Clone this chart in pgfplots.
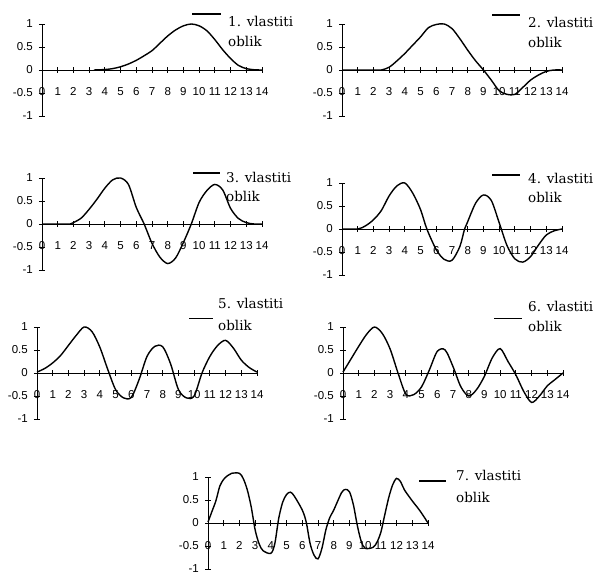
\documentclass[border=0pt]{standalone}
\usepackage{fontspec}
\setmainfont{Liberation Sans}
\newfontfamily\legfont{DejaVu Serif}
\usepackage{pgfplots}
\pgfplotsset{compat=1.18}

\pgfplotsset{
  mode/.style={
    scale only axis, width=220pt, height=92pt,
    anchor=south west,
    xmin=0, xmax=14, ymin=-1, ymax=1,
    axis lines=middle, axis line style={-, line width=0.8pt},
    hide obscured x ticks=false, hide obscured y ticks=false,
    xtick={0,1,2,3,4,5,6,7,8,9,10,11,12,13,14},
    xticklabels={0,1,2,3,4,5,6,7,8,9,10,11,12,13,14},
    ytick={-1,-0.5,0,0.5,1},
    yticklabels={-1,-0.5,0,0.5,1},
    tick align=center, major tick length=6pt,
    tick style={black, line width=0.8pt},
    ticklabel style={font=\fontsize{11.5}{12}\selectfont},
    xticklabel style={anchor=base, inner sep=0pt, yshift=-23pt},
    yticklabel style={anchor=east, inner sep=0pt, xshift=-6pt},
    clip=false,
  },
  cv/.style={black, line width=1.4pt, smooth, no markers},
}

\begin{document}
\begin{tikzpicture}[x=1pt,y=1pt]
\path[use as bounding box] (0,0) rectangle (599,575);

% 1
\begin{axis}[mode, at={(42pt,459pt)}]
\addplot[cv] coordinates {
  (3.3,0) (4,0.01) (4.5,0.03) (5,0.07) (5.5,0.13) (6,0.21) (6.5,0.31)
  (7,0.42) (7.5,0.58) (8,0.74) (8.5,0.87) (9,0.96) (9.5,1.0) (10,0.96)
  (10.5,0.85) (11,0.66) (11.5,0.44) (12,0.25) (12.5,0.1) (13,0.03)
  (13.5,0.005) (14,0)
};
\end{axis}

% 2
\begin{axis}[mode, at={(342pt,459pt)}]
\addplot[cv] coordinates {
  (0,0) (1,0) (2,0) (2.5,0) (3,0.06) (3.5,0.2) (4,0.36) (4.5,0.54)
  (5,0.72) (5.5,0.92) (6,0.99) (6.5,1.0) (7,0.9) (7.5,0.68) (8,0.43)
  (8.5,0.2) (9,0) (9.5,-0.22) (10,-0.45) (10.5,-0.53) (11,-0.53)
  (11.5,-0.38) (12,-0.22) (12.5,-0.11) (13,-0.03) (13.5,0) (14,0)
};
\end{axis}

% 3
\begin{axis}[mode, at={(42pt,305pt)}]
\addplot[cv] coordinates {
  (0,0) (1,0) (1.8,0) (2,0.03) (2.5,0.13) (3,0.32) (3.5,0.54) (4,0.78)
  (4.5,0.96) (5,1.0) (5.5,0.86) (6,0.36) (6.5,0) (7,-0.42) (7.5,-0.72)
  (8,-0.86) (8.5,-0.74) (9,-0.4) (9.5,0) (10,0.47) (10.5,0.73) (11,0.86)
  (11.5,0.74) (12,0.34) (12.5,0.12) (13,0.03) (13.5,0) (14,0)
};
\end{axis}

% 4
\begin{axis}[mode, at={(342pt,300pt)}]
\addplot[cv] coordinates {
  (0,0) (1,0) (1.5,0.07) (2,0.2) (2.5,0.4) (3,0.72) (3.5,0.94) (4,1.0)
  (4.5,0.78) (5,0.42) (5.4,0) (6,-0.45) (6.5,-0.66) (7,-0.68) (7.5,-0.38)
  (7.8,0) (8,0.16) (8.5,0.56) (9,0.74) (9.5,0.62) (10,0.14) (10.5,-0.36)
  (11,-0.65) (11.5,-0.72) (12,-0.6) (12.5,-0.35) (13,-0.13) (13.5,-0.04)
  (14,0)
};
\end{axis}

% 5
\begin{axis}[mode, at={(37pt,156pt)}]
\addplot[cv] coordinates {
  (0,0.02) (0.5,0.1) (1,0.22) (1.5,0.38) (2,0.6) (2.5,0.82) (3,1.0)
  (3.5,0.9) (4,0.56) (4.5,0.08) (5,-0.36) (5.5,-0.54) (6,-0.53)
  (6.5,-0.14) (7,0.36) (7.5,0.58) (8,0.57) (8.5,0.2) (9,-0.36)
  (9.5,-0.54) (10,-0.5) (10.5,0) (11,0.36) (11.5,0.6) (12,0.71)
  (12.5,0.54) (13,0.28) (13.5,0.12) (14,0.02)
};
\end{axis}

% 6
\begin{axis}[mode, at={(343pt,156pt)}]
\addplot[cv] coordinates {
  (0,0.02) (0.5,0.3) (1,0.58) (1.5,0.84) (2,1.0) (2.5,0.86) (3,0.52)
  (3.5,0) (4,-0.46) (4.5,-0.47) (5,-0.3) (5.5,0.07) (6,0.47) (6.5,0.5)
  (7,0.14) (7.5,-0.3) (8,-0.5) (8.5,-0.36) (9,-0.07) (9.5,0.33)
  (10,0.53) (10.5,0.25) (11,-0.04) (11.5,-0.4) (12,-0.64) (12.5,-0.5)
  (13,-0.28) (13.5,-0.14) (14,0)
};
\end{axis}

% 7
\begin{axis}[mode, at={(208pt,6pt)}]
\addplot[cv] coordinates {
  (0,0.02) (0.25,0.25) (0.5,0.48) (0.75,0.8) (1,0.95) (1.25,1.03)
  (1.5,1.08) (2,1.08) (2.25,0.96) (2.5,0.72) (2.75,0.35) (3,-0.15)
  (3.25,-0.45) (3.5,-0.6) (4,-0.66) (4.25,-0.45) (4.5,0.1) (4.75,0.45)
  (5,0.62) (5.25,0.67) (5.5,0.58) (6,0.28) (6.25,0.02) (6.5,-0.45)
  (6.75,-0.7) (7,-0.78) (7.25,-0.55) (7.5,-0.15) (7.75,0.12) (8,0.28)
  (8.5,0.66) (8.75,0.73) (9,0.68) (9.25,0.4) (9.5,-0.05) (9.75,-0.4)
  (10,-0.55) (10.5,-0.53) (10.75,-0.42) (11,-0.2) (11.25,0.18)
  (11.5,0.55) (11.75,0.83) (12,0.97) (12.25,0.9) (12.5,0.72) (13,0.48)
  (13.5,0.26) (14,0)
};
\end{axis}

% legend entries
\begin{scope}[every node/.style={anchor=base west, inner sep=0pt, font=\legfont\fontsize{13.5}{15}\selectfont}]
\draw[line width=1.2pt] (192,561) -- (221,561);
\node at (228,548) {1. vlastiti}; \node at (228,528) {oblik};
\draw[line width=1.2pt] (492,560) -- (520,560);
\node at (528,547) {2. vlastiti}; \node at (528,527) {oblik};
\draw[line width=1.2pt] (193,402) -- (220,402);
\node at (226,392) {3. vlastiti}; \node at (226,373) {oblik};
\draw[line width=1.2pt] (492,400) -- (520,400);
\node at (528,391) {4. vlastiti}; \node at (528,372) {oblik};
\draw[line width=0.8pt] (189,257) -- (213,257);
\node at (218,266) {5. vlastiti}; \node at (218,244) {oblik};
\draw[line width=0.8pt] (494,257) -- (522,257);
\node at (528,263) {6. vlastiti}; \node at (528,243) {oblik};
\draw[line width=1.2pt] (419,94) -- (446,94);
\node at (456,94) {7. vlastiti}; \node at (456,72) {oblik};
\end{scope}
\end{tikzpicture}
\end{document}
